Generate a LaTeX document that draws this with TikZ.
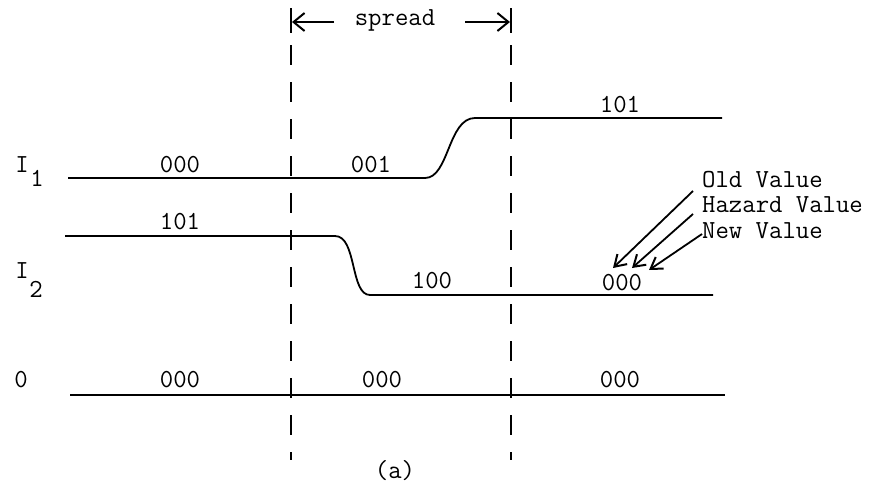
\documentclass[tikz,border=0pt]{standalone}
\usepackage{fontspec}
\usetikzlibrary{arrows.meta}
\begin{document}
\begin{tikzpicture}[x=1pt,y=-1pt,
  lbl/.style={inner sep=0pt,anchor=base,font=\ttfamily\fontsize{26}{30}\selectfont},
  lblw/.style={inner sep=0pt,anchor=base west,font=\ttfamily\fontsize{26}{30}\selectfont},
  wave/.style={line width=1.8pt,line join=round},
  vdash/.style={line width=2.2pt,dash pattern=on 20pt off 17pt},
  tick/.style={line width=2.2pt},
  spreadarrow/.style={line width=2pt,-{Straight Barb[length=11pt,width=18pt,line width=2pt]}},
  callout/.style={line width=1.8pt,-{Straight Barb[length=11pt,width=14pt,line width=2pt]}}]
\path[use as bounding box] (0,0) rectangle (884,491);

% vertical markers
\coordinate (lt) at (291,8);
\coordinate (ltb) at (291,33);
\coordinate (ld) at (291,45);
\coordinate (lb) at (291,460);
\coordinate (rt) at (511,8);
\coordinate (rtb) at (511,33);
\coordinate (rd) at (511,45);
\coordinate (rb) at (511,460);
\draw[tick] (lt) -- (ltb);
\draw[tick] (rt) -- (rtb);
\draw[vdash] (ld) -- (lb);
\draw[vdash] (rd) -- (rb);

% spread
\node[lbl] (spread) at (395,25) {spread};
\coordinate (sl0) at (334,22);
\coordinate (sl1) at (292,22);
\coordinate (sr0) at (465,22);
\coordinate (sr1) at (510,22);
\draw[spreadarrow] (sl0) -- (sl1);
\draw[spreadarrow] (sr0) -- (sr1);

% row labels
\node[lbl] (I1) at (22,172) {I};
\node[lbl] (I1s) at (37,186) {1};
\node[lbl] (I2) at (22,278) {I};
\node[lbl] (I2s) at (36,297) {2};
\node[lbl] (O) at (21,387) {0};

% waveforms
\coordinate (a0) at (68,178);
\coordinate (a1) at (425,178);
\coordinate (a2) at (475,118);
\coordinate (a3) at (722,118);
\draw[wave] (a0) -- (a1) .. controls (449,178) and (448,118) .. (a2) -- (a3);

\coordinate (b0) at (65,236);
\coordinate (b1) at (335,236);
\coordinate (b2) at (370,295);
\coordinate (b3) at (713,295);
\draw[wave] (b0) -- (b1) .. controls (357,236) and (350,295) .. (b2) -- (b3);

\coordinate (c0) at (70,395);
\coordinate (c1) at (725,395);
\draw[wave] (c0) -- (c1);

% values
\node[lbl] (v11) at (180,172) {000};
\node[lbl] (v12) at (371,172) {001};
\node[lbl] (v13) at (620,112) {101};
\node[lbl] (v21) at (180,229) {101};
\node[lbl] (v22) at (432,288) {100};
\node[lbl] (v23) at (622,290) {000};
\node[lbl] (v31) at (180,387) {000};
\node[lbl] (v32) at (382,387) {000};
\node[lbl] (v33) at (620,387) {000};

% callouts
\node[lblw] (old) at (702,187) {Old Value};
\node[lblw] (haz) at (702,212) {Hazard Value};
\node[lblw] (new) at (702,238) {New Value};
\coordinate (o0) at (693,191);
\coordinate (o1) at (613,268);
\coordinate (h0) at (693,214);
\coordinate (h1) at (632,268);
\coordinate (n0) at (702,234);
\coordinate (n1) at (649,270);
\draw[callout] (o0) -- (o1);
\draw[callout] (h0) -- (h1);
\draw[callout] (n0) -- (n1);

\node[lbl] (cap) at (395,478) {(a)};
\end{tikzpicture}
\end{document}
